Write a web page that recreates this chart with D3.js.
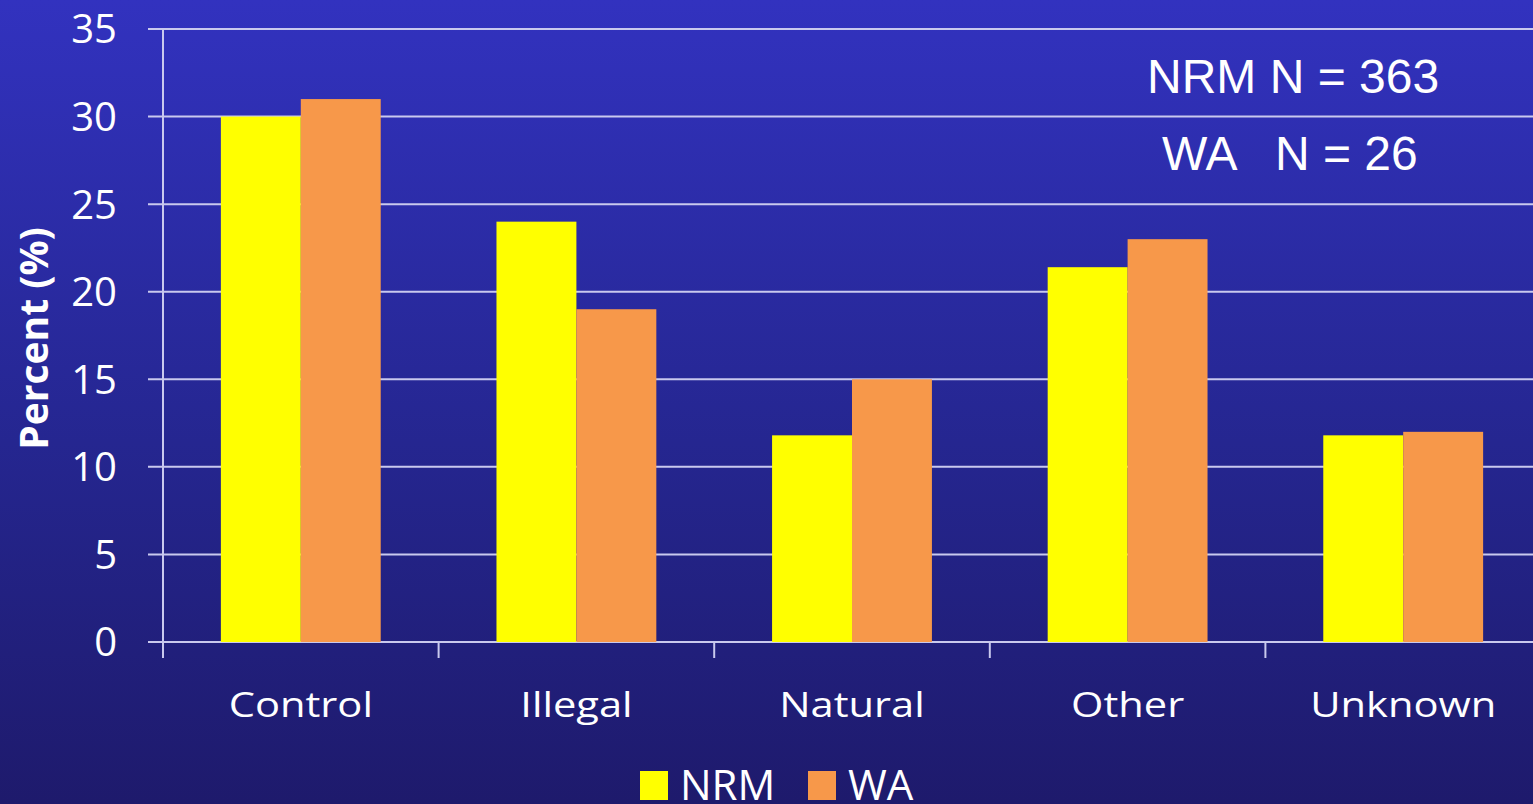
<!DOCTYPE html>
<html>
<head>
<meta charset="utf-8">
<script src="https://cdn.jsdelivr.net/npm/d3@7"></script>
<style>
  html, body { margin: 0; padding: 0; overflow: hidden; }
  svg { display: block; }
</style>
</head>
<body>
<svg id="chart" width="1533" height="804"></svg>
<script>
// Cause categories and percentage of cases for each group
const categories = ["Control", "Illegal", "Natural", "Other", "Unknown"];
const seriesNames = ["NRM", "WA"];
const nrmValues = [30, 24, 11.8, 21.4, 11.8];
const waValues = [31, 19, 15, 23, 12];
const yTicks = [0, 5, 10, 15, 20, 25, 30, 35];
const sampleNotes = ["NRM N = 363", "WA   N = 26"];
const colors = ["#ffff00", "#f7984a"];

const W = 1533, H = 804;
const svg = d3.select("#chart");

// Background gradient
const defs = svg.append("defs");
const grad = defs.append("linearGradient").attr("id", "bg")
  .attr("x1", 0).attr("y1", 0).attr("x2", 0).attr("y2", 1);
grad.append("stop").attr("offset", "0%").attr("stop-color", "#3232bf");
grad.append("stop").attr("offset", "55%").attr("stop-color", "#252690");
grad.append("stop").attr("offset", "100%").attr("stop-color", "#1e1a6c");
svg.append("rect").attr("width", W).attr("height", H).attr("fill", "url(#bg)");

const plotLeft = 163, plotRight = 1541, plotTop = 29, plotBottom = 642;

const x = d3.scaleBand().domain(categories).range([plotLeft, plotRight])
  .paddingInner(0).paddingOuter(0);
const y = d3.scaleLinear().domain([0, 35]).range([plotBottom, plotTop]);
const groupPad = 0.21;
const xs = d3.scaleBand().domain(seriesNames)
  .range([x.bandwidth() * groupPad, x.bandwidth() * (1 - groupPad)]);

const gridColor = "#c9c9ee";

// Horizontal gridlines (with tick stubs to the left of the axis)
svg.append("g").selectAll("line").data(yTicks).join("line")
  .attr("x1", plotLeft - 15).attr("x2", W)
  .attr("y1", d => y(d)).attr("y2", d => y(d))
  .attr("stroke", gridColor).attr("stroke-width", 2);

// Vertical axis line
svg.append("line")
  .attr("x1", plotLeft).attr("x2", plotLeft)
  .attr("y1", plotTop).attr("y2", plotBottom + 16)
  .attr("stroke", gridColor).attr("stroke-width", 2);

// Category separator ticks
svg.append("g").selectAll("line").data(categories.slice(1)).join("line")
  .attr("x1", d => x(d)).attr("x2", d => x(d))
  .attr("y1", plotBottom).attr("y2", plotBottom + 16)
  .attr("stroke", gridColor).attr("stroke-width", 2);

// Bars
const rows = categories.map((c, i) => ({ cat: c, vals: [nrmValues[i], waValues[i]] }));
const groups = svg.append("g").selectAll("g").data(rows).join("g")
  .attr("transform", d => `translate(${x(d.cat)},0)`);
groups.selectAll("rect").data(d => d.vals.map((v, j) => ({ name: seriesNames[j], v, j })))
  .join("rect")
  .attr("x", d => xs(d.name))
  .attr("width", xs.bandwidth())
  .attr("y", d => y(d.v))
  .attr("height", d => y(0) - y(d.v))
  .attr("fill", d => colors[d.j]);

// Y tick labels
svg.append("g").selectAll("text").data(yTicks).join("text")
  .attr("x", 117).attr("y", d => y(d))
  .attr("dy", "0.36em")
  .attr("text-anchor", "end")
  .attr("font-family", "'Open Sans', sans-serif")
  .attr("font-size", 40)
  .attr("fill", "#ffffff")
  .text(d => d);

// Y axis title
svg.append("text")
  .attr("transform", `translate(48,${(plotTop + plotBottom) / 2 + 3}) rotate(-90)`)
  .attr("text-anchor", "middle")
  .attr("font-family", "'Open Sans', sans-serif")
  .attr("font-weight", "bold")
  .attr("font-size", 39)
  .attr("fill", "#ffffff")
  .text("Percent (%)");

// Category labels
svg.append("g").selectAll("text").data(categories).join("text")
  .attr("transform", d => `translate(${x(d) + x.bandwidth() / 2},717) scale(1.19,1)`)
  .attr("text-anchor", "middle")
  .attr("font-family", "'Open Sans', sans-serif")
  .attr("font-size", 35)
  .attr("fill", "#ffffff")
  .text(d => d);

// Legend
const legendItems = [
  { name: seriesNames[0], color: colors[0], x: 640 },
  { name: seriesNames[1], color: colors[1], x: 808 }
];
const lg = svg.append("g").selectAll("g").data(legendItems).join("g")
  .attr("transform", d => `translate(${d.x},771)`);
lg.append("rect").attr("width", 28).attr("height", 29).attr("fill", d => d.color);
lg.append("text").attr("x", 40).attr("y", 29)
  .attr("font-family", "'Open Sans', sans-serif")
  .attr("font-size", 42)
  .attr("fill", "#ffffff")
  .text(d => d.name);

// Sample size notes
svg.append("g").selectAll("text").data(sampleNotes).join("text")
  .attr("x", (d, i) => i === 0 ? 1147 : 1162)
  .attr("y", (d, i) => i === 0 ? 93 : 170)
  .attr("font-family", "'Liberation Sans', Arial, sans-serif")
  .attr("font-size", 48)
  .attr("fill", "#ffffff")
  .attr("xml:space", "preserve")
  .style("white-space", "pre")
  .text(d => d);
</script>
</body>
</html>
